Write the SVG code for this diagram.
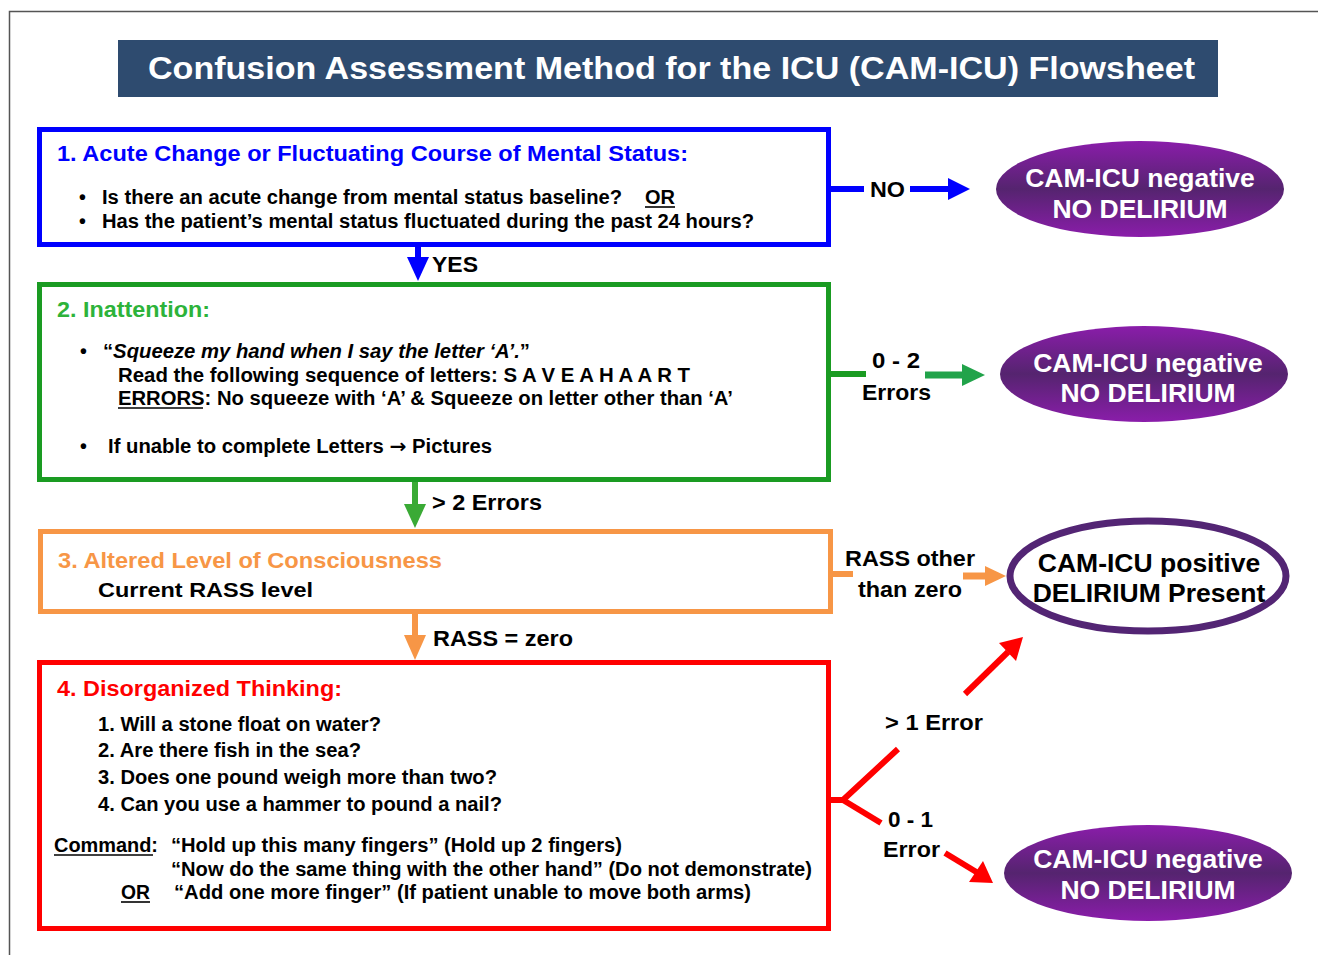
<svg xmlns="http://www.w3.org/2000/svg" width="1318" height="955" viewBox="0 0 1318 955">
  <defs>
    <linearGradient id="purple" x1="0" y1="0" x2="0" y2="1">
      <stop offset="0" stop-color="#8A1DAA"/>
      <stop offset="0.5" stop-color="#55246F"/>
      <stop offset="1" stop-color="#8A1DAA"/>
    </linearGradient>
    <style>
      text { font-family: "Liberation Sans", Arial, sans-serif; font-weight: bold; }
      .box { fill: #ffffff; stroke-width: 5; }
      .body { font-size: 19.5px; fill: #000000; }
      .head { font-size: 22px; }
      .lbl { font-size: 22px; fill: #000000; }
      .oval { font-size: 26.5px; fill: #ffffff; text-anchor: middle; }
      .ul { stroke: #000000; stroke-width: 1.6; }
    </style>
  </defs>

  <!-- page frame -->
  <path d="M9.5 955 V11.5 H1318" fill="none" stroke="#555555" stroke-width="1.5"/>

  <!-- title banner -->
  <g id="title">
    <rect x="118" y="40" width="1100" height="57" fill="#2E4B6F"/>
    <text x="148" y="79" font-size="32" fill="#ffffff" textLength="1047" lengthAdjust="spacingAndGlyphs">Confusion Assessment Method for the ICU (CAM-ICU) Flowsheet</text>
  </g>

  <!-- step 1 -->
  <g id="step1">
    <rect class="box" x="39.5" y="129.5" width="789" height="115" stroke="#0000FF"/>
    <text class="head" x="57" y="161" fill="#0000FF" textLength="631" lengthAdjust="spacingAndGlyphs">1. Acute Change or Fluctuating Course of Mental Status:</text>
    <text class="body" x="79" y="204">•</text>
    <text class="body" x="102" y="204" textLength="520" lengthAdjust="spacingAndGlyphs">Is there an acute change from mental status baseline?</text>
    <text class="body" x="645" y="204" textLength="30" lengthAdjust="spacingAndGlyphs">OR</text>
    <line class="ul" x1="645" y1="207" x2="675" y2="207"/>
    <text class="body" x="79" y="228">•</text>
    <text class="body" x="102" y="228" textLength="652" lengthAdjust="spacingAndGlyphs">Has the patient’s mental status fluctuated during the past 24 hours?</text>
  </g>

  <!-- step 2 -->
  <g id="step2">
    <rect class="box" x="39.5" y="284.5" width="789" height="195" stroke="#1A9B22"/>
    <text class="head" x="57" y="317" fill="#2DB33A" textLength="153" lengthAdjust="spacingAndGlyphs">2. Inattention:</text>
    <text class="body" x="80" y="358">•</text>
    <text class="body" x="103" y="358" textLength="427" lengthAdjust="spacingAndGlyphs">“<tspan font-style="italic">Squeeze my hand when I say the letter ‘A’.</tspan>”</text>
    <text class="body" x="118" y="382" textLength="572" lengthAdjust="spacingAndGlyphs">Read the following sequence of letters: S A V E A H A A R T</text>
    <text class="body" x="118" y="405" textLength="615" lengthAdjust="spacingAndGlyphs">ERRORS: No squeeze with ‘A’ &amp; Squeeze on letter other than ‘A’</text>
    <line class="ul" x1="118" y1="408" x2="203" y2="408"/>
    <text class="body" x="80" y="453">•</text>
    <text class="body" x="108" y="453" textLength="384" lengthAdjust="spacingAndGlyphs">If unable to complete Letters <tspan font-family="'DejaVu Sans', sans-serif">→</tspan> Pictures</text>
  </g>

  <!-- step 3 -->
  <g id="step3">
    <rect class="box" x="40.5" y="531.5" width="790" height="80" stroke="#F79646"/>
    <text class="head" x="58" y="568" fill="#F79646" textLength="384" lengthAdjust="spacingAndGlyphs">3. Altered Level of Consciousness</text>
    <text class="body" x="98" y="597" font-size="21" textLength="215" lengthAdjust="spacingAndGlyphs">Current RASS level</text>
  </g>

  <!-- step 4 -->
  <g id="step4">
    <rect class="box" x="39.5" y="662.5" width="789" height="266" stroke="#FF0000"/>
    <text class="head" x="57" y="696" fill="#FF0000" textLength="285" lengthAdjust="spacingAndGlyphs">4. Disorganized Thinking:</text>
    <text class="body" x="98" y="731" textLength="283" lengthAdjust="spacingAndGlyphs">1. Will a stone float on water?</text>
    <text class="body" x="98" y="757" textLength="263" lengthAdjust="spacingAndGlyphs">2. Are there fish in the sea?</text>
    <text class="body" x="98" y="784" textLength="399" lengthAdjust="spacingAndGlyphs">3. Does one pound weigh more than two?</text>
    <text class="body" x="98" y="811" textLength="404" lengthAdjust="spacingAndGlyphs">4. Can you use a hammer to pound a nail?</text>
    <text class="body" x="54" y="852" textLength="104" lengthAdjust="spacingAndGlyphs">Command:</text>
    <line class="ul" x1="54" y1="855" x2="153" y2="855"/>
    <text class="body" x="171" y="852" textLength="451" lengthAdjust="spacingAndGlyphs">“Hold up this many fingers” (Hold up 2 fingers)</text>
    <text class="body" x="171" y="876" textLength="641" lengthAdjust="spacingAndGlyphs">“Now do the same thing with the other hand” (Do not demonstrate)</text>
    <text class="body" x="121" y="899" textLength="29" lengthAdjust="spacingAndGlyphs">OR</text>
    <line class="ul" x1="121" y1="902" x2="150" y2="902"/>
    <text class="body" x="174" y="899" textLength="577" lengthAdjust="spacingAndGlyphs">“Add one more finger” (If patient unable to move both arms)</text>
  </g>

  <!-- outcomes -->
  <g id="result-neg1">
    <ellipse cx="1140" cy="189" rx="144" ry="48" fill="url(#purple)"/>
    <text class="oval" x="1140" y="187">CAM-ICU negative</text>
    <text class="oval" x="1140" y="218">NO DELIRIUM</text>
  </g>
  <g id="result-neg2">
    <ellipse cx="1144" cy="374" rx="144" ry="48" fill="url(#purple)"/>
    <text class="oval" x="1148" y="372">CAM-ICU negative</text>
    <text class="oval" x="1148" y="402">NO DELIRIUM</text>
  </g>
  <g id="result-pos">
    <ellipse cx="1148" cy="576" rx="138" ry="55" fill="#ffffff" stroke="#532574" stroke-width="7"/>
    <text class="oval" x="1149" y="572" style="fill:#000000">CAM-ICU positive</text>
    <text class="oval" x="1149" y="602" style="fill:#000000">DELIRIUM Present</text>
  </g>
  <g id="result-neg3">
    <ellipse cx="1148" cy="873" rx="144" ry="48" fill="url(#purple)"/>
    <text class="oval" x="1148" y="868">CAM-ICU negative</text>
    <text class="oval" x="1148" y="899">NO DELIRIUM</text>
  </g>

  <!-- connectors -->
  <g id="connectors">
    <!-- 1 -> negative -->
    <line x1="829" y1="189" x2="864" y2="189" stroke="#0000FF" stroke-width="6"/>
    <line x1="910" y1="189" x2="950" y2="189" stroke="#0000FF" stroke-width="6"/>
    <polygon points="948,178 970,189 948,200" fill="#0000FF"/>
    <text class="lbl" x="870" y="197" textLength="35" lengthAdjust="spacingAndGlyphs">NO</text>

    <!-- 1 -> 2 -->
    <line x1="418" y1="247" x2="418" y2="260" stroke="#0000FF" stroke-width="6"/>
    <polygon points="407,257 429,257 418,281" fill="#0000FF"/>
    <text class="lbl" x="432" y="272" textLength="46" lengthAdjust="spacingAndGlyphs">YES</text>

    <!-- 2 -> negative -->
    <line x1="829" y1="374" x2="866" y2="374" stroke="#1A9B22" stroke-width="6"/>
    <line x1="925" y1="375" x2="964" y2="375" stroke="#21A34A" stroke-width="7"/>
    <polygon points="962,364 985,375 962,386" fill="#21A34A"/>
    <text class="lbl" x="872" y="368" textLength="48" lengthAdjust="spacingAndGlyphs">0 - 2</text>
    <text class="lbl" x="862" y="400" textLength="69" lengthAdjust="spacingAndGlyphs">Errors</text>

    <!-- 2 -> 3 -->
    <line x1="415" y1="482" x2="415" y2="507" stroke="#3AAA35" stroke-width="6"/>
    <polygon points="404,504 426,504 415,528" fill="#3AAA35"/>
    <text class="lbl" x="432" y="510" textLength="110" lengthAdjust="spacingAndGlyphs">&gt; 2 Errors</text>

    <!-- 3 -> positive -->
    <line x1="831" y1="574" x2="853" y2="574" stroke="#F79646" stroke-width="6"/>
    <line x1="963" y1="576" x2="987" y2="576" stroke="#F79646" stroke-width="7"/>
    <polygon points="985,566 1006,576 985,586" fill="#F79646"/>
    <text class="lbl" x="845" y="566" textLength="130" lengthAdjust="spacingAndGlyphs">RASS other</text>
    <text class="lbl" x="858" y="597" textLength="104" lengthAdjust="spacingAndGlyphs">than zero</text>

    <!-- 3 -> 4 -->
    <line x1="415" y1="614" x2="415" y2="638" stroke="#F79646" stroke-width="6"/>
    <polygon points="404,635 426,635 415,660" fill="#F79646"/>
    <text class="lbl" x="433" y="646" textLength="140" lengthAdjust="spacingAndGlyphs">RASS = zero</text>

    <!-- 4 -> branches -->
    <polyline points="829,800 843,800 898,749" fill="none" stroke="#FF0000" stroke-width="6"/>
    <line x1="843" y1="800" x2="881" y2="823" stroke="#FF0000" stroke-width="6"/>
    <line x1="965" y1="694" x2="1008" y2="652" stroke="#FF0000" stroke-width="6"/>
    <polygon points="999,643 1023,637 1016,661" fill="#FF0000"/>
    <line x1="945" y1="853" x2="978" y2="873" stroke="#FF0000" stroke-width="6"/>
    <polygon points="983,861 993,883 969,882" fill="#FF0000"/>
    <text class="lbl" x="885" y="730" textLength="98" lengthAdjust="spacingAndGlyphs">&gt; 1 Error</text>
    <text class="lbl" x="888" y="827" textLength="45" lengthAdjust="spacingAndGlyphs">0 - 1</text>
    <text class="lbl" x="883" y="857" textLength="57" lengthAdjust="spacingAndGlyphs">Error</text>
  </g>
</svg>
